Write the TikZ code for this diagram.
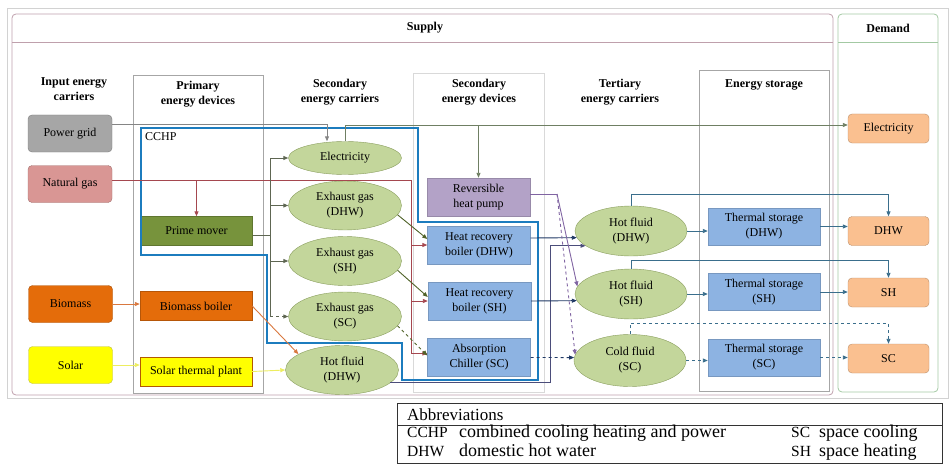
\documentclass[tikz,border=0pt]{standalone}
\usepackage{fontspec}
\setmainfont{Liberation Serif}
\usetikzlibrary{arrows.meta,shapes.geometric}
\definecolor{cgrid}{HTML}{A6A6A6}
\definecolor{cgas}{HTML}{D99694}
\definecolor{cbio}{HTML}{E46C0A}
\definecolor{csol}{HTML}{FFFF00}
\definecolor{cprime}{HTML}{77933C}
\definecolor{cell}{HTML}{C3D69B}
\definecolor{cellb}{HTML}{8A9E5E}
\definecolor{cdev}{HTML}{8DB3E2}
\definecolor{cpump}{HTML}{B3A2C7}
\definecolor{cdem}{HTML}{FAC090}
\definecolor{ccchp}{HTML}{1C7CBE}
\definecolor{lgas}{HTML}{A5474F}
\definecolor{lel}{HTML}{6F7F63}
\definecolor{lpm}{HTML}{5E6652}
\definecolor{lexh}{HTML}{4F6228}
\definecolor{lbio}{HTML}{D9783F}
\definecolor{lsol}{HTML}{EDED60}
\definecolor{lnavy}{HTML}{1F3864}
\definecolor{lhf}{HTML}{4B4D7A}
\definecolor{lpump}{HTML}{8064A2}
\definecolor{lter}{HTML}{3A6E8C}
\definecolor{lsup}{HTML}{BFA0AC}
\definecolor{ldem}{HTML}{A3C9A3}
\tikzset{
  txt/.style={font=\fontsize{12}{15}\selectfont, align=center, inner sep=1pt},
  hdr/.style={txt, font=\fontsize{12}{15}\selectfont\bfseries},
  abbr/.style={font=\fontsize{#1}{20}\selectfont, anchor=base west, inner sep=0pt},
  abbr/.default=18,
  inbox/.style={txt, draw=#1!75!black, fill=#1, rounded corners=4pt, minimum width=84pt, minimum height=37pt},
  pdev/.style={txt, draw=#1!80!black, fill=#1, minimum width=112pt, minimum height=29pt},
  carr/.style={txt, ellipse, draw=cellb, fill=cell, minimum width=113pt, minimum height=49pt},
  sdev/.style={txt, draw=#1!85!black, fill=#1, minimum width=103pt, minimum height=38pt},
  stor/.style={sdev=cdev, minimum width=112pt, minimum height=37pt},
  dem/.style={txt, draw=cdem!75!black, fill=cdem, rounded corners=4pt, minimum width=81pt, minimum height=29pt},
  colbox/.style={draw=gray!70, line width=0.6pt},
  ln/.style={draw=#1, line width=0.9pt},
}
\begin{document}
\begin{tikzpicture}[x=1pt, y=-1pt, >={Triangle[length=5pt,width=4pt]}]
\useasboundingbox (0,0) rectangle (952,468);
\draw[gray!35, line width=0.8pt] (7,8) rectangle (948,398);
\draw[lsup, line width=0.8pt, rounded corners=4pt] (12,14) rectangle (833,395);
\draw[lsup, line width=0.8pt] (12,42) -- (833,42);
\draw[ldem, line width=0.8pt, rounded corners=4pt] (838,14) rectangle (938,392);
\draw[ldem, line width=0.8pt] (838,42) -- (938,42);
\node[hdr] (hsup) at (425,28) {Supply};
\node[hdr] (hdem) at (888,28) {Demand};
\draw[colbox] (133,75) rectangle (263,393);
\draw[colbox, draw=gray!30] (413,73) rectangle (544,392);
\draw[colbox] (699,70) rectangle (829,391);
\node[hdr] (h1) at (74,89) {Input energy\\carriers};
\node[hdr] (h2) at (198,94) {Primary\\energy devices};
\node[hdr] (h3) at (340,92) {Secondary\\energy carriers};
\node[hdr] (h4) at (479,92) {Secondary\\energy devices};
\node[hdr] (h5) at (620,92) {Tertiary\\energy carriers};
\node[hdr] (h6) at (764,85) {Energy storage};

\node[inbox=cgrid] (pg) at (70,133.5) {Power grid};
\node[inbox=cgas] (ng) at (70,184) {Natural gas};
\node[inbox=cbio] (bm) at (70.5,304) {Biomass};
\node[inbox=csol, draw=lsol!80!black] (so) at (70.5,365) {Solar};

\node[pdev=cprime] (pm) at (196.5,231) {Prime mover};
\node[pdev=cbio] (bb) at (196,306) {Biomass boiler};
\node[pdev=csol, draw=orange!70!black] (stp) at (196,371.5) {Solar thermal plant};

\node[carr, minimum height=33pt] (el) at (345,158) {Electricity};
\node[carr] (egd) at (345,205.5) {Exhaust gas\\(DHW)};
\node[carr] (egh) at (345,261) {Exhaust gas\\(SH)};
\node[carr] (egc) at (345,316.5) {Exhaust gas\\(SC)};
\node[carr] (hf1) at (342,370) {Hot fluid\\(DHW)};

\node[sdev=cpump] (rhp) at (478.5,197) {Reversible\\heat pump};
\node[sdev=cdev] (hrd) at (479,245) {Heat recovery\\boiler (DHW)};
\node[sdev=cdev] (hrs) at (479.5,301) {Heat recovery\\boiler (SH)};
\node[sdev=cdev] (ac) at (479,357.5) {Absorption\\Chiller (SC)};

\node[carr, minimum width=112pt, minimum height=50pt] (hfd) at (631,231) {Hot fluid\\(DHW)};
\node[carr, minimum width=112pt, minimum height=50pt] (hfs) at (631,294) {Hot fluid\\(SH)};
\node[carr, minimum width=112pt, minimum height=52pt] (cfs) at (630,360.5) {Cold fluid\\(SC)};

\node[stor] (tsd) at (764,226.5) {Thermal storage\\(DHW)};
\node[stor] (tss) at (764,292) {Thermal storage\\(SH)};
\node[stor] (tsc) at (764,357.5) {Thermal storage\\(SC)};

\node[dem] (de) at (888.5,128.5) {Electricity};
\node[dem] (dd) at (888.5,231) {DHW};
\node[dem] (ds) at (888.5,292.5) {SH};
\node[dem] (dc) at (888.5,358.5) {SC};

\draw[ccchp, line width=2.2pt] (141,128) -- (418,128) -- (418,222) -- (538,222) -- (538,380)
  -- (402,380) -- (402,343) -- (267,343) -- (267,255) -- (141,255) -- cycle;
\node[txt, anchor=west] (cchp) at (144,137) {CCHP};

\coordinate (ebus) at ([yshift=3.5pt]de.west);
\coordinate (gbus) at (411,180);
\coordinate (pbus) at (270,235);
\coordinate (pbr) at (557,194);

\draw[ln=cgrid!80!black, ->] ([yshift=9.5pt]pg.east) -| ([xshift=-18pt]el.north);
\draw[ln=lel, ->] (el.north) |- (ebus);
\draw[ln=lel, ->] (ebus -| rhp.north) -- (rhp.north);

\draw[ln=lgas] ([yshift=4pt]ng.east) -- (gbus);
\draw[ln=lgas, ->] (gbus -| pm.north) -- (pm.north);
\draw[ln=lgas, ->] (gbus) |- ([yshift=4pt]ac.west);
\draw[ln=lgas, ->] (gbus |- hrd.west) -- (hrd.west);
\draw[ln=lgas, ->] (gbus |- hrs.west) -- (hrs.west);

\draw[ln=lpm] ([yshift=-4pt]pm.east) -- (pbus);
\draw[ln=lpm] (pbus |- el.west) -- (pbus |- egc.west);
\draw[ln=lpm, ->] (pbus |- el.west) -- (el.west);
\draw[ln=lpm, ->] (pbus |- egd.west) -- (egd.west);
\draw[ln=lpm, ->] (pbus |- egh.west) -- (egh.west);
\draw[ln=lpm, dashed, ->] (pbus |- egc.west) -- (egc.west);

\draw[ln=lexh, ->] (egd.-10) -- ([yshift=6pt]hrd.west);
\draw[ln=lexh, ->] (egh.-10) -- ([yshift=4pt]hrs.west);
\draw[ln=lexh, dashed, ->] (egc.-10) -- ([yshift=2pt]ac.west);

\draw[ln=lbio, ->] (bm.east) -- (bm.east -| bb.west);
\draw[ln=lbio, ->] (bb.east) -- (hf1.160);
\draw[ln=lsol, ->] (so.east) -- (so.east -| stp.west);
\draw[ln=lsol, ->] (stp.east) -- (hf1.west);

\draw[ln=lhf, ->] (hf1.-15) -- ++(160,0) |- (hfd.198);
\draw[ln=lnavy, ->] ([yshift=7pt]hrd.east) -- (hfd.187);
\draw[ln=lnavy, ->] (hrs.east) -- (hfs.187);
\draw[ln=lnavy, dashed, ->] (ac.east) -- (cfs.177);

\draw[ln=lpump] ([yshift=3pt]rhp.east) -- (pbr);
\draw[ln=lpump, ->] (pbr) -- (hfs.172);
\draw[ln=lpump, dashed, ->] (pbr) -- (cfs.174);

\draw[ln=lter, ->] (hfd.east) -- (hfd.east -| tsd.west);
\draw[ln=lter, ->] (hfs.east) -- (hfs.east -| tss.west);
\draw[ln=lter, dashed, ->] (cfs.east) -- (cfs.east -| tsc.west);
\draw[ln=lter, ->] (tsd.east) -- (tsd.east -| dd.west);
\draw[ln=lter, ->] (tss.east) -- (tss.east -| ds.west);
\draw[ln=lter, dashed, ->] (tsc.east) -- (tsc.east -| dc.west);
\draw[ln=lter, ->] (hfd.north) -- ++(0,-11) -| (dd.north);
\draw[ln=lter, ->] (hfs.north) -- ++(0,-8) -| (ds.north);
\draw[ln=lter, dashed, ->] (cfs.north) -- ++(0,-11) -| (dc.north);

\draw[gray!40!black, line width=0.8pt] (397,403) rectangle (942,463);
\draw[gray!40!black, line width=0.6pt] (397,425) -- (942,425);
\node[abbr=17] (ab) at (407,420) {Abbreviations};
\node[abbr=15.5] (a1) at (407,437) {CCHP};
\node[abbr] (a2) at (459,437) {combined cooling heating and power};
\node[abbr=15.5] (a3) at (791,437) {SC};
\node[abbr] (a4) at (819,437) {space cooling};
\node[abbr=15.5] (a5) at (407,456) {DHW};
\node[abbr] (a6) at (459,456) {domestic hot water};
\node[abbr=15.5] (a7) at (791,456) {SH};
\node[abbr] (a8) at (819,456) {space heating};
\end{tikzpicture}
\end{document}
